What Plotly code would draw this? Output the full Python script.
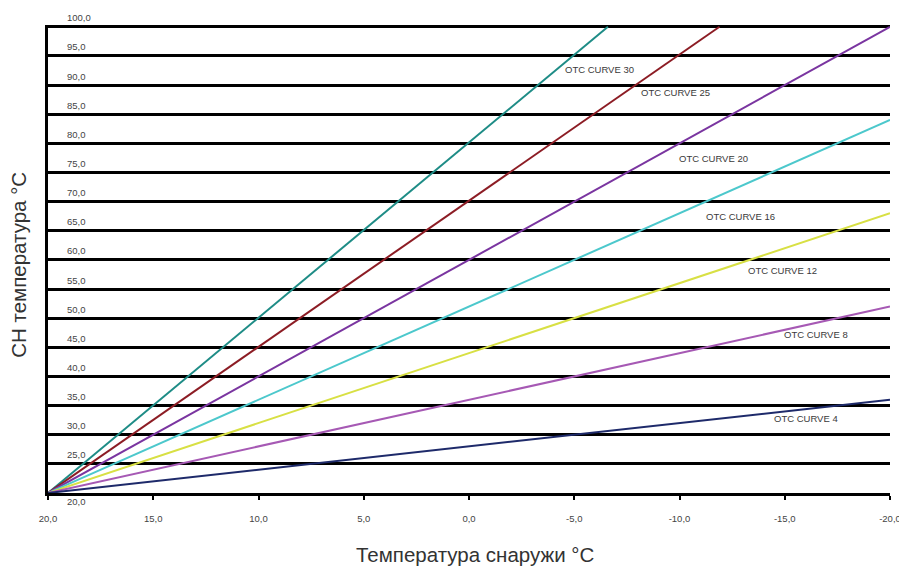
import plotly.graph_objects as go

# Data
curve_names = ["OTC CURVE 30", "OTC CURVE 25", "OTC CURVE 20", "OTC CURVE 16",
               "OTC CURVE 12", "OTC CURVE 8", "OTC CURVE 4"]
start_x = 20.0
start_y = 20.0
end_x = [-6.6, -11.9, -20.0, -20.0, -20.0, -20.0, -20.0]
end_y = [100.0, 100.0, 100.0, 84.0, 68.0, 52.0, 36.0]
colors = ["#1e8c86", "#8c1c24", "#7a35a0", "#4cc8cc", "#d8e044", "#a659b4", "#1e2a6a"]
label_x = [-6.2, -9.8, -11.6, -12.9, -14.9, -16.5, -16.0]
label_y = [92.6, 88.7, 77.4, 67.5, 58.1, 47.2, 32.8]

x_ticks = [20, 15, 10, 5, 0, -5, -10, -15, -20]
x_tick_text = ["20,0", "15,0", "10,0", "5,0", "0,0", "-5,0", "-10,0", "-15,0", "-20,0"]
y_ticks = [20, 25, 30, 35, 40, 45, 50, 55, 60, 65, 70, 75, 80, 85, 90, 95, 100]
y_tick_text = ["20,0", "25,0", "30,0", "35,0", "40,0", "45,0", "50,0", "55,0", "60,0",
               "65,0", "70,0", "75,0", "80,0", "85,0", "90,0", "95,0", "100,0"]

x_title = "Температура снаружи °C"
y_title = "СН температура °C"

fig = go.Figure()
for name, ex, ey, c in zip(curve_names, end_x, end_y, colors):
    fig.add_trace(go.Scatter(x=[start_x, ex], y=[start_y, ey], mode="lines",
                             line=dict(color=c, width=2), name=name,
                             showlegend=False, hoverinfo="skip"))

for name, lx, ly in zip(curve_names, label_x, label_y):
    fig.add_annotation(x=lx, y=ly, text=name, showarrow=False,
                       font=dict(family="Liberation Sans", size=9.5, color="#3a3a3a"))

# y tick labels placed inside the plot, just above each grid line
for v, t in zip(y_ticks, y_tick_text):
    fig.add_annotation(xref="paper", yref="y", x=0, y=v, xanchor="left",
                       yanchor="middle", xshift=17, yshift=(-8 if v == min(y_ticks) else 9),
                       text=t, showarrow=False,
                       font=dict(family="Liberation Sans", size=9.5, color="#444444"))

fig.add_annotation(xref="paper", yref="paper", x=0.508, y=-0.131, yanchor="middle",
                   text=x_title, showarrow=False,
                   font=dict(family="Liberation Sans", size=20.5, color="#333333"))
fig.add_annotation(xref="paper", yref="paper", x=-0.036, y=0.487, xanchor="center",
                   yanchor="middle", textangle=-90, text=y_title, showarrow=False,
                   borderpad=0,
                   font=dict(family="Liberation Sans", size=20.5, color="#333333"))

fig.update_layout(
    width=899, height=561,
    margin=dict(l=40, r=17, t=17, b=76),
    paper_bgcolor="white", plot_bgcolor="white",
    font=dict(family="Liberation Sans", color="#333333"),
    xaxis=dict(range=[20, -20], tickvals=x_ticks, ticktext=x_tick_text,
               showgrid=False, zeroline=False, showline=True, linecolor="black",
               linewidth=3, ticks="outside", ticklen=4, tickwidth=2, tickcolor="black",
               tickfont=dict(size=9.5, color="#444444"), ticklabelstandoff=11,
               automargin=False),
    yaxis=dict(range=[20, 100.3], tickvals=y_ticks, showticklabels=False,
               showgrid=True, gridcolor="black", gridwidth=3, zeroline=False,
               showline=True, linecolor="black", linewidth=3, ticks="",
               automargin=False),
)

fig.write_html("out.html")
